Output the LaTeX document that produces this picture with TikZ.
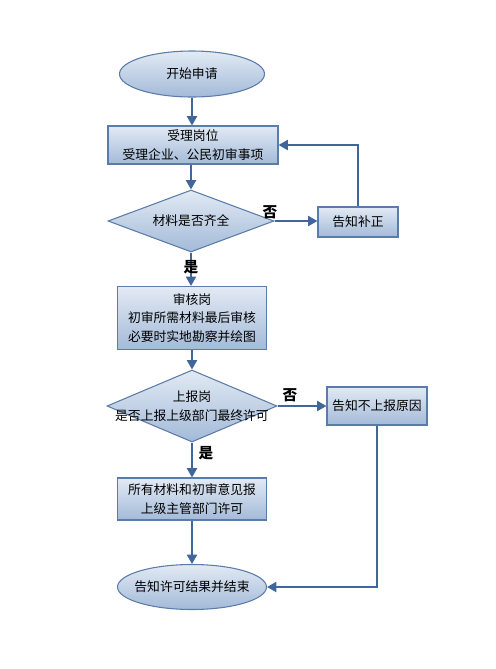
\documentclass[tikz,border=0pt]{standalone}
\usepackage{fontspec}
\setmainfont{Noto Sans CJK SC}
\usetikzlibrary{shapes.geometric,arrows.meta}
\definecolor{topc}{HTML}{E2EAF4}
\definecolor{botc}{HTML}{A3BAD8}
\definecolor{edgec}{HTML}{5B7CA8}
\definecolor{arrc}{HTML}{41679A}
\begin{document}
\begin{tikzpicture}[x=0.75pt,y=-0.75pt,
  base/.style={draw=edgec, line width=0.8pt, top color=topc, bottom color=botc, inner sep=1pt, align=center, font=\fontsize{9.6}{14}\selectfont},
  oval/.style={base, ellipse, inner sep=0pt},
  boxn/.style={base, rectangle},
  dia/.style={base, diamond, inner sep=0pt},
  dtext/.style={align=center, inner sep=0pt, font=\fontsize{9.6}{14}\selectfont},
  arr/.style={draw=arrc, line width=1.5pt, -{Triangle[length=7pt,width=7.5pt]}},
  lbl/.style={font=\fontsize{11}{13}\selectfont\bfseries}
]
\useasboundingbox (0,0) rectangle (496,669);
\node[oval, minimum width=108.75pt, minimum height=34.5pt] (start) at (192,74) {};
\node[dtext] (startt) at (start.center) {开始申请};
\node[boxn, minimum width=127.5pt, minimum height=28.5pt] (accept) at (193,145) {受理岗位\\受理企业、公民初审事项};
\node[dia, minimum width=124.5pt, minimum height=46.5pt] (check) at (191,221) {};
\node[dtext] (checkt) at (check.center) {材料是否齐全};
\node[boxn, minimum width=60pt, minimum height=22.5pt] (fix) at (358,222) {告知补正};
\node[boxn, minimum width=111.75pt, minimum height=47.25pt] (review) at (192,318) {审核岗\\初审所需材料最后审核\\必要时实地勘察并绘图};
\node[dia, minimum width=127.5pt, minimum height=54pt] (report) at (192,406) {};
\node[dtext] (reportt) at (report.center) {上报岗\\是否上报上级部门最终许可};
\node[boxn, minimum width=75pt, minimum height=28.5pt] (noreport) at (377,406) {告知不上报原因};
\node[boxn, minimum width=111.75pt, minimum height=31.5pt] (submit) at (192,499) {所有材料和初审意见报\\上级主管部门许可};
\node[oval, minimum width=111.75pt, minimum height=33.75pt] (finish) at (192,587) {};
\node[dtext] (finisht) at (finish.center) {告知许可结果并结束};

\draw[arr] (start.south) -- (start.south |- accept.north);
\draw[arr] (accept.south -| check.north) -- (check.north);
\draw[arr] (check.east) -- (fix.west |- check.east);
\draw[arr] (fix.north) |- (accept.east);
\draw[arr] (check.south) -- (check.south |- review.north);
\draw[arr] (review.south -| report.north) -- (report.north);
\draw[arr] (report.east) -- (noreport.west);
\draw[arr] (report.south) -- (submit.north);
\draw[arr] (submit.south) -- (finish.north);
\draw[arr] (noreport.south) |- (finish.east);

\node[lbl] (no1) at (270,212) {否};
\node[lbl] (yes1) at (191,267) {是};
\node[lbl] (no2) at (290,395) {否};
\node[lbl] (yes2) at (206,453) {是};
\end{tikzpicture}
\end{document}
